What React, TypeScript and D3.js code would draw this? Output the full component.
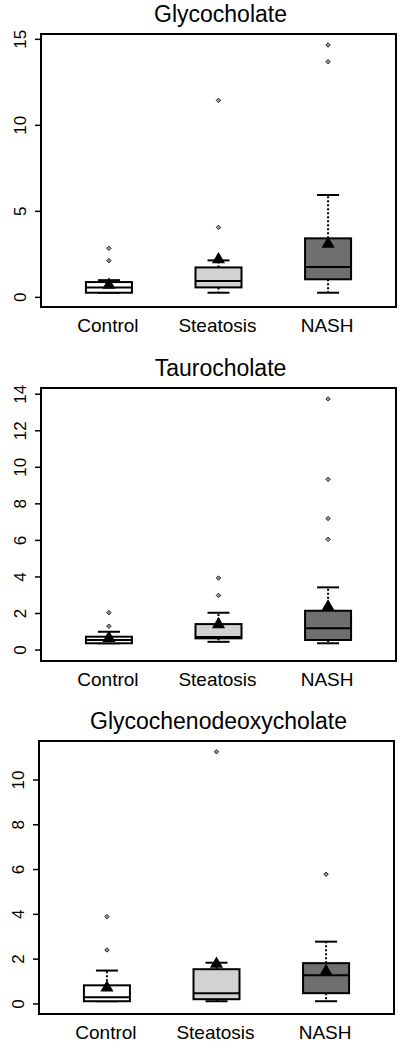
import React from "react";
import * as d3 from "d3";

const groups = ["Control", "Steatosis", "NASH"];
const fills = ["#ffffff", "#d2d2d2", "#6f6f6f"];

// Glycocholate
const glycoLow = [0.27, 0.27, 0.27];
const glycoQ1 = [0.27, 0.58, 1.05];
const glycoMed = [0.58, 0.95, 1.76];
const glycoQ3 = [0.89, 1.74, 3.43];
const glycoHigh = [1.0, 2.15, 5.95];
const glycoMean = [0.72, 2.2, 3.1];
const glycoOut = [[2.13, 2.85], [4.07, 11.45], [13.7, 14.67]];
const glycoTicks = [0, 5, 10, 15];

// Taurocholate
const tauroLow = [0.37, 0.45, 0.37];
const tauroQ1 = [0.37, 0.64, 0.55];
const tauroMed = [0.55, 0.72, 1.19];
const tauroQ3 = [0.73, 1.42, 2.15];
const tauroHigh = [1.0, 2.04, 3.43];
const tauroMean = [0.65, 1.4, 2.37];
const tauroOut = [[1.3, 2.04], [2.99, 3.94], [6.06, 7.2, 9.34, 13.74]];
const tauroTicks = [0, 2, 4, 6, 8, 10, 12, 14];

// Glycochenodeoxycholate
const gcdcaLow = [0.12, 0.12, 0.12];
const gcdcaQ1 = [0.12, 0.21, 0.48];
const gcdcaMed = [0.3, 0.48, 1.28];
const gcdcaQ3 = [0.83, 1.55, 1.82];
const gcdcaHigh = [1.49, 1.84, 2.78];
const gcdcaMean = [0.72, 1.78, 1.45];
const gcdcaOut = [[2.41, 3.9], [11.26], [5.79]];
const gcdcaTicks = [0, 2, 4, 6, 8, 10];

const panels = [
  { title: "Glycocholate", low: glycoLow, q1: glycoQ1, med: glycoMed, q3: glycoQ3, high: glycoHigh, mean: glycoMean, out: glycoOut, ticks: glycoTicks, domain: [-0.56, 15.31], top: 34, left: 41 },
  { title: "Taurocholate", low: tauroLow, q1: tauroQ1, med: tauroMed, q3: tauroQ3, high: tauroHigh, mean: tauroMean, out: tauroOut, ticks: tauroTicks, domain: [-0.6, 14.34], top: 388, left: 41 },
  { title: "Glycochenodeoxycholate", low: gcdcaLow, q1: gcdcaQ1, med: gcdcaMed, q3: gcdcaQ3, high: gcdcaHigh, mean: gcdcaMean, out: gcdcaOut, ticks: gcdcaTicks, domain: [-0.45, 11.74], top: 741, left: 39 },
];

const W = 355;
const H = 273;
const font = "'Liberation Sans', Arial, Helvetica, sans-serif";

function Panel({ p }: { p: any }) {
  const x = d3.scaleLinear().domain([0.38, 3.62]).range([p.left, p.left + W]);
  const y = d3.scaleLinear().domain(p.domain).range([p.top + H, p.top]);
  const bw = 23;
  const cw = 11;
  const tri = d3.symbol().type(d3.symbolTriangle).size(75)();
  return (
    <g>
      <text x={p.left + W / 2 + 2} y={p.top - 12} textAnchor="middle" fontSize={23} fontFamily={font}>
        {p.title}
      </text>
      {/* y axis */}
      <line x1={p.left - 6} x2={p.left - 6} y1={y(p.ticks[0])} y2={y(p.ticks[p.ticks.length - 1])} stroke="#000" strokeWidth={1} opacity={0} />
      {p.ticks.map((t: number) => (
        <g key={t}>
          <line x1={p.left - 6} x2={p.left} y1={y(t)} y2={y(t)} stroke="#000" strokeWidth={1.5} />
          <text transform={`translate(${p.left - 15},${y(t)}) rotate(-90)`} textAnchor="middle" fontSize={17} fontFamily={font}>
            {t}
          </text>
        </g>
      ))}
      {groups.map((g, i) => {
        const cx = x(i + 1);
        return (
          <g key={g}>
            <line x1={cx} x2={cx} y1={y(p.q3[i])} y2={y(p.high[i])} stroke="#000" strokeWidth={2} strokeDasharray="2,2" />
            <line x1={cx} x2={cx} y1={y(p.q1[i])} y2={y(p.low[i])} stroke="#000" strokeWidth={2} strokeDasharray="2,2" />
            <line x1={cx - cw} x2={cx + cw} y1={y(p.high[i])} y2={y(p.high[i])} stroke="#000" strokeWidth={2} />
            <line x1={cx - cw} x2={cx + cw} y1={y(p.low[i])} y2={y(p.low[i])} stroke="#000" strokeWidth={2} />
            <rect x={cx - bw} y={y(p.q3[i])} width={bw * 2} height={Math.max(1, y(p.q1[i]) - y(p.q3[i]))} fill={fills[i]} stroke="#000" strokeWidth={2} />
            <line x1={cx - bw} x2={cx + bw} y1={y(p.med[i])} y2={y(p.med[i])} stroke="#000" strokeWidth={2} />
            <path d={tri as string} transform={`translate(${cx},${y(p.mean[i])})`} fill="#000" />
            {p.out[i].map((v: number, k: number) => (
              <path key={k} d="M0,-2.2L2.2,0L0,2.2L-2.2,0Z" transform={`translate(${cx},${y(v)})`} fill="#999" stroke="#222" strokeWidth={1} />
            ))}
            <text x={cx - 1} y={p.top + H + 25} textAnchor="middle" fontSize={19} fontFamily={font}>
              {g}
            </text>
          </g>
        );
      })}
      <rect x={p.left} y={p.top} width={W} height={H} fill="none" stroke="#000" strokeWidth={2} />
    </g>
  );
}

export default function App() {
  return (
    <svg width={400} height={1043} style={{ position: "absolute", left: 0, top: 0, background: "#fff" }}>
      {panels.map((p) => (
        <Panel key={p.title} p={p} />
      ))}
    </svg>
  );
}
